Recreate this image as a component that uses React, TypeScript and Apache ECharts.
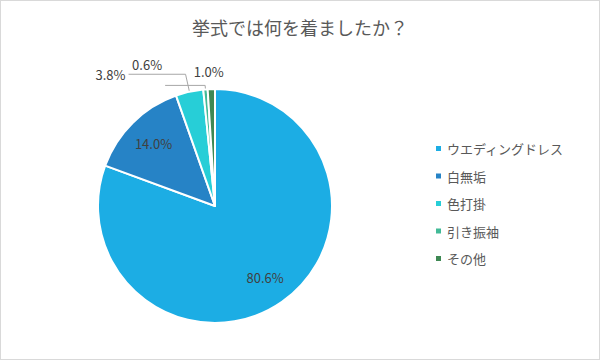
import React, { useEffect, useRef } from "react";
import * as echarts from "echarts";

const categories = ["ウエディングドレス", "白無垢", "色打掛", "引き振袖", "その他"];
const values = [80.6, 14.0, 3.8, 0.6, 1.0];
const colors = ["#1CADE4", "#2683C6", "#27CED7", "#42BA97", "#3E8853"];
const titleText = "挙式では何を着ましたか？";
const insideIdx = [0, 1];
const lineLens = [0, 0, 18, 4, 17];
const lineLens2 = [0, 0, 57, 40, 0];

const FONT = "'Noto Sans CJK JP', 'Noto Sans', sans-serif";

export default function App() {
  const ref = useRef<HTMLDivElement>(null);
  useEffect(() => {
    if (!ref.current) return;
    const chart = echarts.init(ref.current, null, { renderer: "svg" });
    const fmt = (v: number) => v.toFixed(1) + "%";
    const mainData = categories.map((name, i) => {
      const inside = insideIdx.includes(i);
      return {
        name,
        value: values[i],
        itemStyle: { color: colors[i] },
        label: { show: !inside },
        labelLine: {
          show: !inside && lineLens2[i] > 0,
          length: lineLens[i],
          length2: lineLens2[i],
        },
      };
    });
    const overlayData = categories.map((name, i) => ({
      name,
      value: values[i],
      label: { show: insideIdx.includes(i) },
    }));
    chart.setOption({
      animation: false,
      backgroundColor: "#ffffff",
      title: {
        text: titleText,
        left: "center",
        top: 12,
        textStyle: { fontFamily: FONT, fontSize: 18, fontWeight: "normal", color: "#595959" },
      },
      legend: {
        orient: "vertical",
        left: 428,
        top: 136,
        icon: "rect",
        itemWidth: 7,
        itemHeight: 7,
        itemGap: 14.5,
        textStyle: { fontFamily: FONT, fontSize: 13, color: "#595959" },
        data: categories,
      },
      series: [
        {
          type: "pie",
          center: [214, 205],
          radius: [0, 117],
          startAngle: 90,
          clockwise: true,
          avoidLabelOverlap: false,
          itemStyle: { borderColor: "#ffffff", borderWidth: 2 },
          label: {
            position: "outside",
            formatter: (p: any) => fmt(p.value),
            fontFamily: FONT,
            fontSize: 13,
            color: "#404040",
            distanceToLabelLine: 3,
          },
          labelLine: { lineStyle: { color: "#a6a6a6", width: 1 } },
          labelLayout: (p: any) =>
            p.dataIndex === 4 ? { dx: 16, dy: -1 } : p.dataIndex === 3 ? { dy: -21 } : {},
          emphasis: { disabled: true },
          data: mainData,
        },
        {
          type: "pie",
          center: [214, 205],
          radius: [52, 117],
          startAngle: 90,
          clockwise: true,
          silent: true,
          legendHoverLink: false,
          itemStyle: { color: "rgba(0,0,0,0)" },
          label: {
            position: "inside",
            formatter: (p: any) => fmt(p.value),
            fontFamily: FONT,
            fontSize: 13,
            color: "#404040",
          },
          labelLine: { show: false },
          emphasis: { disabled: true },
          tooltip: { show: false },
          data: overlayData,
        },
      ],
    });
    return () => chart.dispose();
  }, []);
  return (
    <div
      ref={ref}
      style={{
        position: "absolute",
        left: 0,
        top: 0,
        width: 600,
        height: 360,
        boxSizing: "border-box",
        border: "1px solid #d9d9d9",
      }}
    />
  );
}
